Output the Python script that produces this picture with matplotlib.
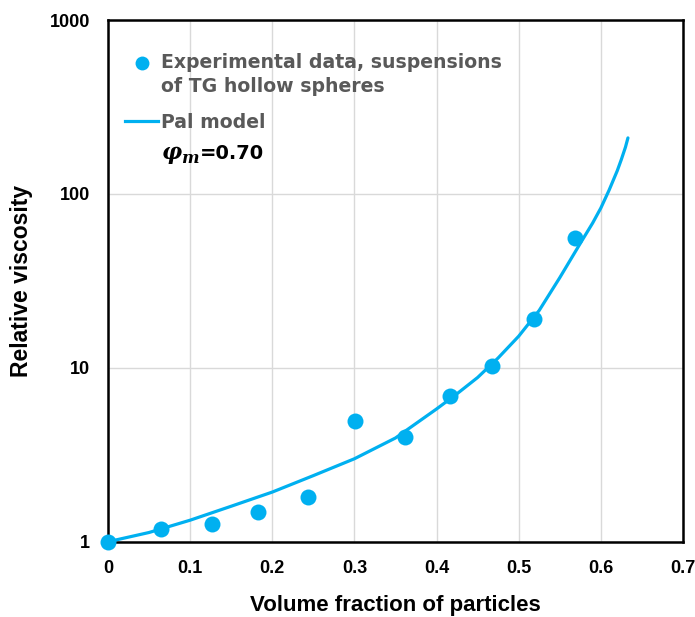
import numpy as np
import matplotlib.pyplot as plt
from matplotlib.lines import Line2D

# measured relative viscosity of hollow-sphere suspensions
phi_exp = [0.0, 0.065, 0.127, 0.183, 0.243, 0.301, 0.361, 0.416, 0.468, 0.519, 0.569]
eta_exp = [1.0, 1.19, 1.26, 1.48, 1.80, 4.97, 3.99, 6.9, 10.2, 19.1, 55.8]

# Pal model curve (phi_m = 0.70)
phi_model = [0.0, 0.05, 0.10, 0.15, 0.20, 0.25, 0.30, 0.35, 0.40, 0.425, 0.45,
             0.475, 0.50, 0.525, 0.55, 0.575, 0.59, 0.60, 0.61, 0.62, 0.625,
             0.63, 0.633]
eta_model = [1.0, 1.13, 1.33, 1.60, 1.93, 2.40, 3.0, 3.95, 5.8, 7.1, 8.8,
             11.4, 15.2, 21.4, 33.0, 52.0, 68.0, 83.0, 105.0, 136.0, 158.0,
             186.0, 210.0]

xticks = [0, 0.1, 0.2, 0.3, 0.4, 0.5, 0.6, 0.7]
xticklabels = ['0', '0.1', '0.2', '0.3', '0.4', '0.5', '0.6', '0.7']
yticks = [1, 10, 100, 1000]
yticklabels = ['1', '10', '100', '1000']

BLUE = '#00B0F0'
GREY_TXT = '#595959'

plt.rcParams['font.family'] = ['Liberation Sans', 'DejaVu Sans']

fig = plt.figure(figsize=(6.95, 6.17), dpi=100)
ax = fig.add_axes([0.1554, 0.122, 0.8273, 0.8455])

ax.plot(phi_model, eta_model, color=BLUE, linewidth=2.3, zorder=3,
        solid_capstyle='round', solid_joinstyle='round')
ax.plot(phi_exp, eta_exp, 'o', color=BLUE, markersize=11.5, zorder=4,
        clip_on=False, markeredgewidth=0)

ax.set_yscale('log')
ax.set_xlim(0, 0.7)
ax.set_ylim(1, 1000)
ax.set_xticks(xticks)
ax.set_xticklabels(xticklabels)
ax.set_yticks(yticks)
ax.set_yticklabels(yticklabels)
ax.minorticks_off()
ax.tick_params(length=0, labelsize=13)
ax.tick_params(axis='y', pad=13)
ax.tick_params(axis='x', pad=13)
for lab in ax.get_xticklabels() + ax.get_yticklabels():
    lab.set_fontweight('bold')

ax.grid(True, color='#D9D9D9', linewidth=1.0, zorder=0)
ax.set_axisbelow(True)
for sp in ax.spines.values():
    sp.set_linewidth(1.8)
    sp.set_color('black')

ax.set_xlabel('Volume fraction of particles', fontsize=16, fontweight='bold',
              labelpad=13)
ax.set_ylabel('Relative viscosity', fontsize=16.5, fontweight='bold',
              labelpad=12)

# legend drawn by hand so the text can sit over the grid
leg_font = dict(family=['DejaVu Sans'], fontweight='bold',
                fontsize=13.6, color=GREY_TXT, transform=fig.transFigure,
                va='center', ha='left')
W, H = 695, 617
fig.add_artist(Line2D([142.3 / W], [1 - 63.3 / H], marker='o', color=BLUE,
                      markersize=10, markeredgewidth=0,
                      transform=fig.transFigure))
fig.text(161 / W, 1 - 63 / H, 'Experimental data, suspensions', **leg_font)
fig.text(161 / W, 1 - 86 / H, 'of TG hollow spheres', **leg_font)
fig.add_artist(Line2D([125 / W, 158 / W], [1 - 120.7 / H] * 2, color=BLUE,
                      linewidth=2.3, transform=fig.transFigure))
fig.text(161 / W, 1 - 122 / H, 'Pal model', **leg_font)

# phi_m = 0.70 annotation, symbol in bold italic serif
sym = dict(family='DejaVu Serif', style='italic', fontweight='bold',
           color='black', transform=fig.transFigure, ha='left',
           va='baseline')
fig.text(162 / W, 1 - 159 / H, 'φ', fontsize=16, **sym)
fig.text(181 / W, 1 - 163 / H, 'm', fontsize=12, **sym)
fig.text(200 / W, 1 - 159 / H, '=0.70', fontsize=14, fontweight='bold',
         family=['DejaVu Sans'], color='black', transform=fig.transFigure,
         ha='left', va='baseline')

fig.savefig('out.png', dpi=100)
